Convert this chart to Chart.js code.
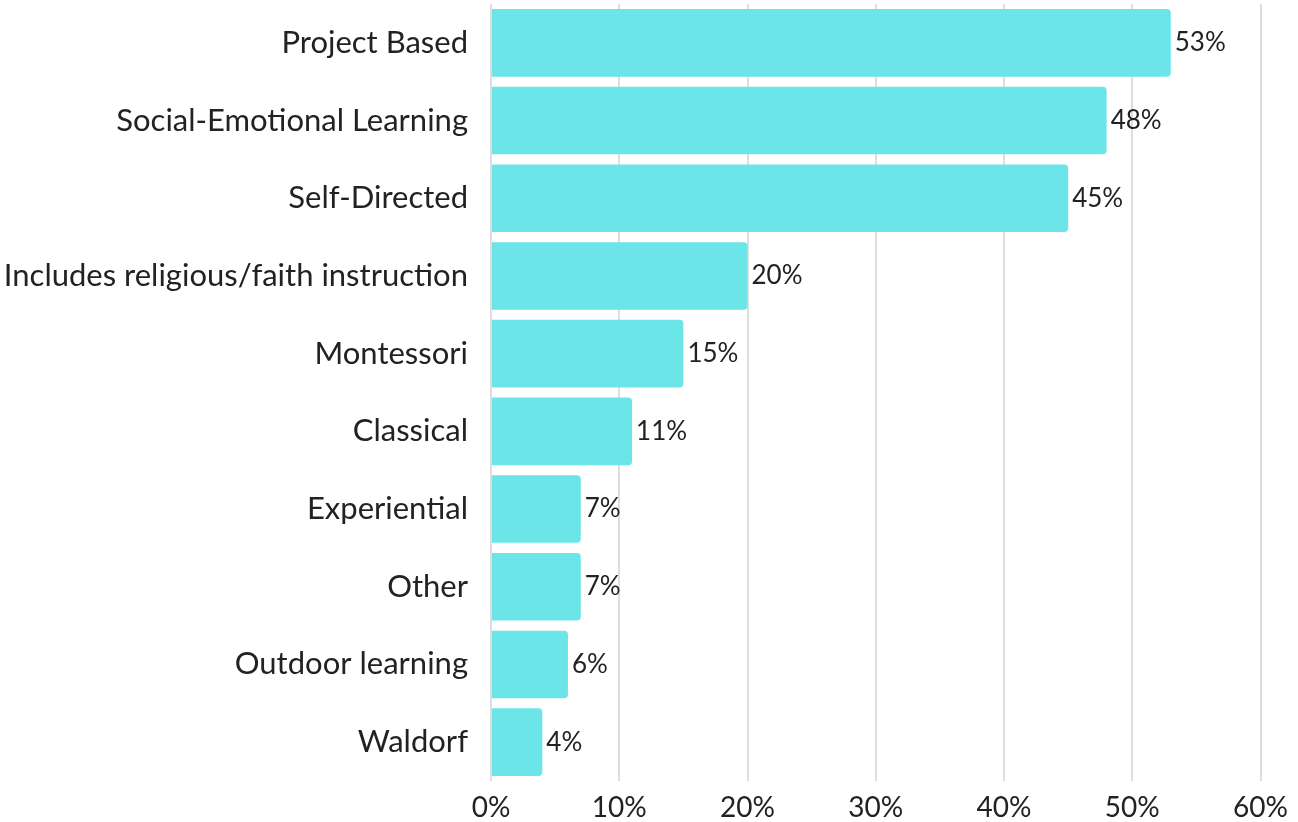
<!DOCTYPE html>
<html>
<head>
<meta charset="utf-8">
<script src="https://cdn.jsdelivr.net/npm/chart.js@4"></script>
<style>
  html, body { margin: 0; padding: 0; background: #fff; }
  #wrap { width: 1298px; height: 822px; }
</style>
</head>
<body>
<div id="wrap"><canvas id="chart" width="1298" height="822"></canvas></div>
<script>
// chart data
const categories = [
    'Project Based',
    'Social-Emotional Learning',
    'Self-Directed',
    'Includes religious/faith instruction',
    'Montessori',
    'Classical',
    'Experiential',
    'Other',
    'Outdoor learning',
    'Waldorf'
];
const shares = [53, 48, 45, 20, 15, 11, 7, 7, 6, 4];
const xTicks = [0, 10, 20, 30, 40, 50, 60];

const FONT = 'Lato, "Noto Sans", sans-serif';

// draw the value at the end of each bar
const barLabels = {
    id: 'barLabels',
    afterDatasetsDraw(chart) {
        const ctx = chart.ctx;
        const meta = chart.getDatasetMeta(0);
        ctx.save();
        ctx.font = '26px ' + FONT;
        ctx.fillStyle = '#222';
        ctx.textAlign = 'left';
        ctx.textBaseline = 'middle';
        meta.data.forEach(function(bar, i) {
            ctx.fillText(shares[i] + '%', bar.x + 4, bar.y);
        });
        ctx.restore();
    }
};

new Chart(document.getElementById('chart'), {
    type: 'bar',
    data: {
        labels: categories,
        datasets: [{
            data: shares,
            backgroundColor: '#6ce5e8',
            borderRadius: 4,
            borderSkipped: 'start',
            barPercentage: 0.87,
            categoryPercentage: 1.0
        }]
    },
    options: {
        indexAxis: 'y',
        responsive: false,
        animation: false,
        layout: { padding: { top: 4, right: 36, bottom: 0, left: 0 } },
        plugins: {
            legend: { display: false },
            tooltip: { enabled: false }
        },
        scales: {
            x: {
                min: 0,
                max: 60,
                afterBuildTicks: function(scale) {
                    scale.ticks = xTicks.map(function(v) { return { value: v }; });
                },
                border: { display: false },
                grid: { color: '#dedede', lineWidth: 2, drawTicks: false },
                ticks: {
                    padding: 10,
                    color: '#222',
                    font: { family: FONT, size: 28 },
                    callback: function(v) { return v + '%'; }
                },
                afterFit: function(scale) { scale.height = 41; }
            },
            y: {
                border: { display: false },
                grid: { display: false, drawTicks: false },
                ticks: {
                    padding: 23,
                    color: '#222',
                    font: { family: FONT, size: 31 }
                },
                afterFit: function(scale) {
                    scale.width = 491;
                    scale.paddingTop = 0;
                    scale.paddingBottom = 0;
                }
            }
        }
    },
    plugins: [barLabels]
});
</script>
</body>
</html>
